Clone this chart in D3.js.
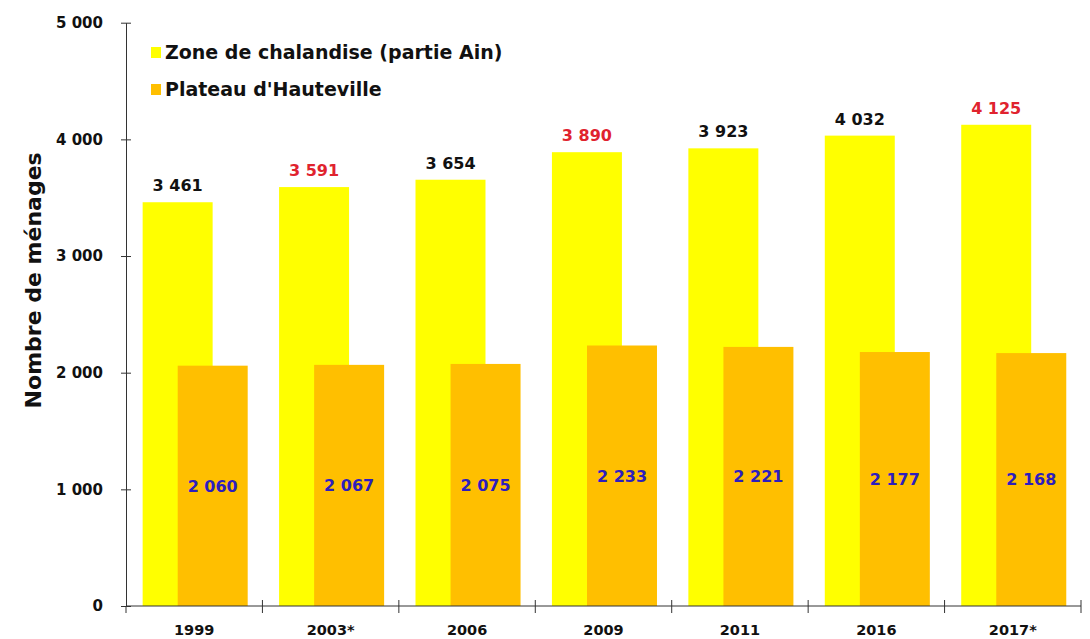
<!DOCTYPE html>
<html>
<head>
<meta charset="utf-8">
<script src="https://cdn.jsdelivr.net/npm/d3@7"></script>
<style>
  body { margin: 0; background: #fff; }
  svg text { font-family: "DejaVu Sans", Verdana, sans-serif; font-weight: bold; }
</style>
</head>
<body>
<svg id="chart" width="1090" height="639"></svg>
<script>
// ménages — zone de chalandise vs plateau d'Hauteville
const years = ["1999", "2003*", "2006", "2009", "2011", "2016", "2017*"];
const zoneValues = [3461, 3591, 3654, 3890, 3923, 4032, 4125];
const plateauValues = [2060, 2067, 2075, 2233, 2221, 2177, 2168];
// estimated years (in red) for the zone series
const zoneEstimated = [false, true, false, true, false, false, true];
const yTicks = [0, 1000, 2000, 3000, 4000, 5000];
const seriesNames = ["Zone de chalandise (partie Ain)", "Plateau d'Hauteville"];
const seriesColors = ["#ffff00", "#ffbf00"];

const fr = d3.formatLocale({ decimal: ",", thousands: " ", grouping: [3], currency: ["", " €"] });
const fmt = fr.format(",d");

const svg = d3.select("#chart");
const mLeft = 126, mRight = 1081, mBottom = 606, mTop = 22.7;

const x = d3.scaleBand().domain(years).range([mLeft, mRight]).padding(0);
const y = d3.scaleLinear().domain([0, 5000]).range([mBottom, mTop]);
const bw = x.bandwidth();
const barW = bw * 0.513;
const zoneOff = bw * 0.122, plateauOff = bw * 0.379;

// bars
svg.append("g").selectAll("rect").data(years).join("rect")
  .attr("x", (d) => x(d) + zoneOff)
  .attr("y", (d, i) => y(zoneValues[i]))
  .attr("width", barW)
  .attr("height", (d, i) => y(0) - y(zoneValues[i]))
  .attr("fill", seriesColors[0]);

svg.append("g").selectAll("rect").data(years).join("rect")
  .attr("x", (d) => x(d) + plateauOff)
  .attr("y", (d, i) => y(plateauValues[i]))
  .attr("width", barW)
  .attr("height", (d, i) => y(0) - y(plateauValues[i]))
  .attr("fill", seriesColors[1]);

// value labels
svg.append("g").selectAll("text").data(years).join("text")
  .attr("x", (d) => x(d) + zoneOff + barW / 2)
  .attr("y", (d, i) => y(zoneValues[i]) - 11)
  .attr("text-anchor", "middle")
  .attr("font-size", 16)
  .attr("fill", (d, i) => zoneEstimated[i] ? "#e0232e" : "#111")
  .text((d, i) => fmt(zoneValues[i]));

svg.append("g").selectAll("text").data(years).join("text")
  .attr("x", (d) => x(d) + plateauOff + barW / 2)
  .attr("y", (d, i) => y(plateauValues[i] / 2))
  .attr("dy", "0.36em")
  .attr("text-anchor", "middle")
  .attr("font-size", 16)
  .attr("fill", "#2d1dbd")
  .text((d, i) => fmt(plateauValues[i]));

// y axis
const yAxis = svg.append("g")
  .attr("transform", `translate(${mLeft},0)`)
  .call(d3.axisLeft(y).tickValues(yTicks).tickFormat(fmt).tickSize(5).tickSizeOuter(0).tickPadding(18));
yAxis.select(".domain").attr("stroke", "#333");
yAxis.selectAll(".tick line").attr("x1", 5).attr("stroke", "#333");
yAxis.selectAll(".tick text")
  .attr("font-size", 15).attr("fill", "#111")
  .style("font-family", "DejaVu Sans").style("font-weight", "bold");

// x axis with boundary ticks
const xg = svg.append("g").attr("transform", `translate(0,${mBottom})`);
xg.append("line").attr("x1", mLeft).attr("x2", mRight).attr("stroke", "#333");
xg.selectAll("line.tk").data(years).join("line").attr("class", "tk")
  .attr("x1", (d) => x(d) + bw).attr("x2", (d) => x(d) + bw)
  .attr("y1", -6).attr("y2", 7).attr("stroke", "#333");
xg.append("line").attr("x1", mLeft).attr("x2", mLeft).attr("y1", 0).attr("y2", 7).attr("stroke", "#333");
xg.selectAll("text").data(years).join("text")
  .attr("x", (d) => x(d) + bw / 2)
  .attr("y", 29)
  .attr("text-anchor", "middle")
  .attr("font-size", 14.5)
  .attr("fill", "#111")
  .text((d) => d);

// y title
svg.append("text")
  .attr("transform", `translate(41,${(mTop + mBottom) / 2 - 34}) rotate(-90)`)
  .attr("text-anchor", "middle")
  .attr("font-size", 22)
  .attr("fill", "#111")
  .text("Nombre de ménages");

// legend
const lg = svg.append("g").selectAll("g").data(seriesNames).join("g")
  .attr("transform", (d, i) => `translate(151,${52 + i * 37})`);
lg.append("rect").attr("x", 0).attr("y", -5).attr("width", 10).attr("height", 11)
  .attr("fill", (d, i) => seriesColors[i]);
lg.append("text").attr("x", 14).attr("dy", "0.36em")
  .attr("font-size", 19).attr("fill", "#111")
  .text((d) => d);
</script>
</body>
</html>
